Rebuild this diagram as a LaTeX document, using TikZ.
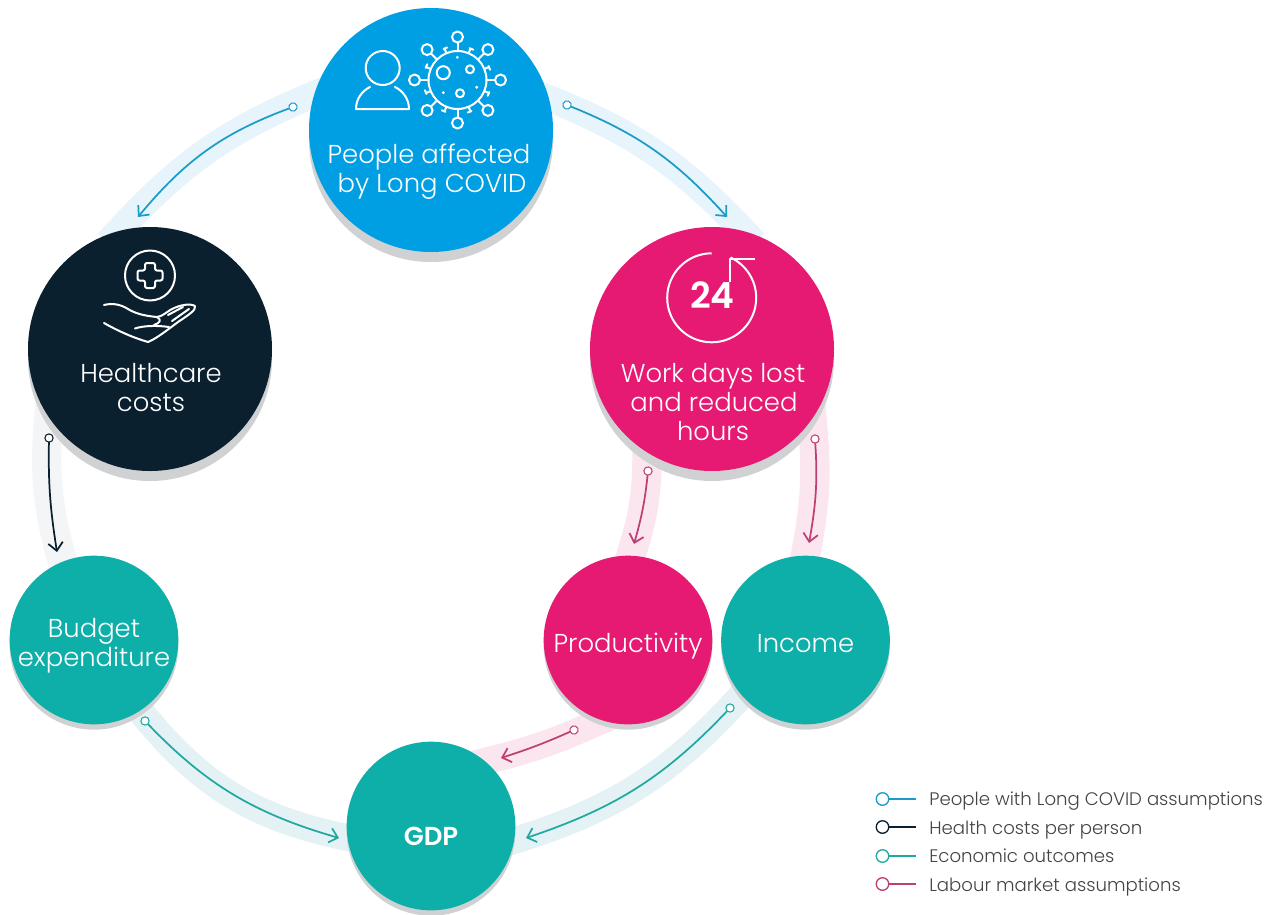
\documentclass[tikz,border=0pt]{standalone}
\usepackage{fontspec}
\setmainfont{Poppins}[UprightFont=* Light,BoldFont=* SemiBold]
\usetikzlibrary{arrows.meta,backgrounds,shadows}
\definecolor{cblue}{HTML}{009FE3}
\definecolor{cnavy}{HTML}{0B202E}
\definecolor{cpink}{HTML}{E71A73}
\definecolor{cteal}{HTML}{0FAFA9}
\definecolor{cshadow}{HTML}{D0D1D3}
\definecolor{bandblue}{HTML}{E8F4FB}
\definecolor{bandgrey}{HTML}{F4F5F7}
\definecolor{bandpink}{HTML}{FBE6F0}
\definecolor{bandteal}{HTML}{E4F1F5}
\definecolor{ablue}{HTML}{1A9BC8}
\definecolor{ateal}{HTML}{1FA9A0}
\definecolor{arose}{HTML}{BE3F72}
\definecolor{legtext}{HTML}{444444}
\tikzset{
  bigcirc/.style={circle,inner sep=0pt,minimum size=183pt,text=white,
    general shadow={shadow xshift=0pt,shadow yshift=-7.5pt,fill=cshadow}},
  smallcirc/.style={circle,inner sep=0pt,minimum size=126.5pt,text=white,
    general shadow={shadow xshift=0pt,shadow yshift=-4pt,fill=cshadow}},
  labeltext/.style={text=white,anchor=base,align=center,font=\fontsize{19.4}{22}\selectfont,inner sep=0pt},
  band/.style={line width=20pt,line cap=butt,shorten <=-12pt,shorten >=-12pt},
  wideband/.style={band,line width=22pt},
  flow/.style={line width=1.3pt,shorten <=-3.5pt,{Circle[open,fill=white,length=7pt,width=7pt,line width=.8pt]}-{Straight Barb[length=6pt,width=11pt,line width=1.3pt]}},
  legline/.style={line width=2pt,shorten <=-5.2pt,{Circle[open,fill=white,length=10.4pt,width=10.4pt,line width=1pt]}-},
  legtxt/.style={anchor=base west,text=legtext,inner sep=0pt,font=\fontsize{13.6}{15}\selectfont},
  icon/.style={draw=white,line width=1.5pt,line join=round,line cap=round}
}
\begin{document}
\begin{tikzpicture}[x=0.75pt,y=-0.75pt]
\useasboundingbox (0,0) rectangle (1277,914);
% main circles
\node[bigcirc,fill=cblue] (people) at (431,130) {};
\node[bigcirc,fill=cnavy] (health) at (150,349) {};
\node[bigcirc,fill=cpink] (work) at (712,349) {};
\node[smallcirc,fill=cteal] (budget) at (94,640) {};
\node[smallcirc,fill=cpink] (prod) at (628,640) {};
\node[smallcirc,fill=cteal] (income) at (805.5,640) {};
\node[smallcirc,fill=cteal] (gdp) at (431,826) {};
% bands
\begin{scope}[on background layer]
\fill[white] (0,0) rectangle (1277,914);
\draw[band,bandblue] (people.163) to[bend right=13] (health.105);
\draw[band,bandblue] (people.15) to[bend left=13] (work.75);
\draw[wideband,bandgrey] (health.214) to[bend right=11] (budget.112);
\draw[wideband,bandpink] (work.238) to[bend left=10] (prod.88);
\draw[wideband,bandpink] (work.325) to[bend left=9] (income.90);
\draw[band,bandpink] (prod.252) to[bend left=6] (gdp.50);
\draw[band,bandteal] (budget.303) to[bend right=21] (gdp.188);
\draw[band,bandteal] (income.221) to[bend left=16] (gdp.350);
\end{scope}
% labels
\node[labeltext] (t1a) at (429,163.5) {People affected};
\node[labeltext] (t1b) at (432,192.5) {by Long COVID};
\node[labeltext] (t2a) at (151,382) {Healthcare};
\node[labeltext] (t2b) at (151,411.5) {costs};
\node[labeltext] (t3a) at (713,382) {Work days lost};
\node[labeltext] (t3b) at (714,411) {and reduced};
\node[labeltext] (t3c) at (713,440) {hours};
\node[labeltext] (t4a) at (94,637) {Budget};
\node[labeltext] (t4b) at (94,666) {expenditure};
\node[labeltext] (t5) at (628,652) {Productivity};
\node[labeltext] (t6) at (805.5,652) {Income};
\node[labeltext,font=\fontsize{19.5}{20}\selectfont\bfseries] (t7) at (431,845) {GDP};
\node[anchor=base,text=white,inner sep=0pt,font=\fontsize{27}{29}\selectfont\bfseries] (t24) at (712.5,308) {24};
% flow arrows
\coordinate (a1s) at (293,107); \coordinate (a1e) at (138,217);
\coordinate (a2s) at (567,105); \coordinate (a2e) at (727,217);
\coordinate (a3s) at (49,438);  \coordinate (a3e) at (57,552);
\coordinate (a4s) at (648,471); \coordinate (a4e) at (634,544);
\coordinate (a5s) at (815,439); \coordinate (a5e) at (809,543);
\coordinate (a6s) at (574,730); \coordinate (a6e) at (501,758);
\coordinate (a7s) at (730,708); \coordinate (a7e) at (526,838);
\coordinate (a8s) at (145,721); \coordinate (a8e) at (339,838);
\draw[flow,ablue] (a1s) to[bend right=15] (a1e);
\draw[flow,ablue] (a2s) to[bend left=13] (a2e);
\draw[flow,cnavy] (a3s) to[bend right=5] (a3e);
\draw[flow,arose] (a4s) to[bend left=5] (a4e);
\draw[flow,arose] (a5s) to[bend left=7] (a5e);
\draw[flow,arose] (a6s) to[bend left=3] (a6e);
\draw[flow,ateal] (a7s) to[bend left=14] (a7e);
\draw[flow,ateal] (a8s) to[bend right=15] (a8e);
% person icon
\draw[icon] (382.7,68) circle (17);
\draw[icon] (370,87) .. controls (362,91) and (356,99) .. (356,109) -- (409,109) .. controls (409,99) and (403,91) .. (395,87);
% virus icon
\begin{scope}[shift={(457.5,80)}]
\draw[icon] (0,0) circle (29);
\foreach \a in {0,45,...,315}{
  \draw[icon] (\a:29) -- (\a:37.5);
  \draw[icon] (\a:43) circle (5.5);
}
\foreach \a in {22.5,67.5,...,337.5}{
  \draw[icon] (\a:29) -- (\a:34);
  \draw[icon] ([shift={(\a+90:3)}]\a:34) -- ([shift={(\a-90:1)}]\a:34);
}
\draw[icon] (-14.2,-7.3) circle (6.5);
\draw[icon] (12.5,-10.7) circle (4);
\draw[icon] (2.5,13.3) circle (4);
\fill[white] (-.2,-22.7) circle (1.6);
\fill[white] (-14.2,12.7) circle (1.6);
\fill[white] (19.2,7.3) circle (1.6);
\end{scope}
% healthcare icon
\draw[icon] (150,275.5) circle (25);
\draw[icon,rounded corners=1.5pt] (145,263) -- (155,263) -- (155,270.5) -- (162.5,270.5) -- (162.5,280.5) -- (155,280.5) -- (155,288) -- (145,288) -- (145,280.5) -- (137.5,280.5) -- (137.5,270.5) -- (145,270.5) -- cycle;
\draw[icon] (104,305) .. controls (112,303) and (120,304) .. (128,309) .. controls (136,314) and (146,316) .. (157,317) .. controls (163,316) and (165,313) .. (172,309) .. controls (180,305) and (190,303) .. (195,306) .. controls (196,310) and (190,314) .. (178,322) -- (170,328) .. controls (162,334) and (155,339) .. (148,342) .. controls (134,338) and (118,331) .. (104,323);
\draw[icon] (135,328.5) .. controls (142,326) and (155,325) .. (169,327);
\draw[icon] (157,317) .. controls (162,320) and (160,323) .. (154,325);
\draw[icon] (168,315) -- (183,307);
\draw[icon] (172,321) -- (189,309);
% clock icon
\draw[icon,line cap=butt] (711.7,253.3) arc[start angle=-90,end angle=-425,radius=44.5];
\draw[icon,line cap=butt] (755,258.5) -- (730,258.5) -- (730,282);
% legend
\coordinate (l1s) at (882.5,799); \coordinate (l1e) at (916,799);
\coordinate (l2s) at (882.5,827); \coordinate (l2e) at (916,827);
\coordinate (l3s) at (882.5,856); \coordinate (l3e) at (916,856);
\coordinate (l4s) at (882.5,884); \coordinate (l4e) at (916,884);
\draw[legline,ablue] (l1s) -- (l1e);
\draw[legline,cnavy] (l2s) -- (l2e);
\draw[legline,ateal] (l3s) -- (l3e);
\draw[legline,arose] (l4s) -- (l4e);
\node[legtxt] (lt1) at (929,805) {People with Long COVID assumptions};
\node[legtxt] (lt2) at (929,834) {Health costs per person};
\node[legtxt] (lt3) at (929,862.5) {Economic outcomes};
\node[legtxt] (lt4) at (929,891) {Labour market assumptions};
\end{tikzpicture}
\end{document}
